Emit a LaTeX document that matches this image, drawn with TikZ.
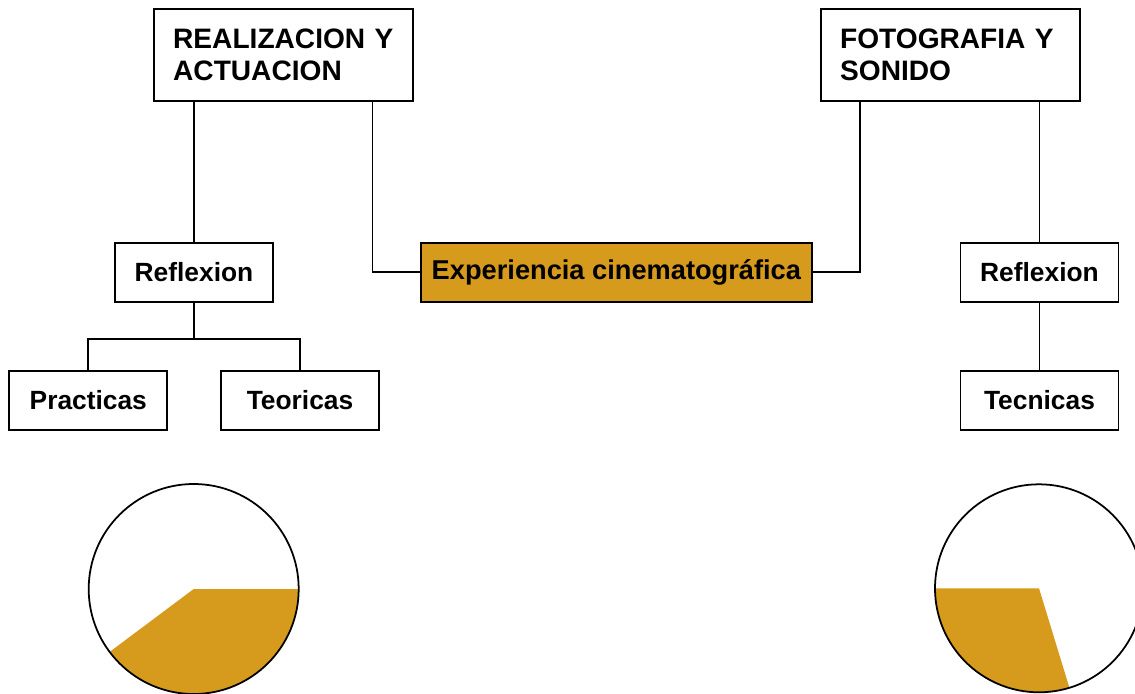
\documentclass[tikz,border=0pt]{standalone}
\usepackage{fontspec}
\setmainfont{Liberation Sans}
\definecolor{cinegold}{RGB}{214,154,28}

\begin{document}
\begin{tikzpicture}[x=0.02cm, y=-0.02cm, line width=1pt,
  topbox/.style={draw, align=left, text width=4.41cm, inner xsep=0.38cm,
    minimum height=1.85cm, font=\fontsize{16}{18.2}\selectfont\bfseries},
  smallbox/.style={draw, minimum width=3.16cm, minimum height=1.18cm,
    font=\fontsize{15}{18}\selectfont\bfseries}]
\useasboundingbox (0,0) rectangle (1135,693);

% Draw the main areas
\node[topbox] (realiz) at (283.4,54.9) {REALIZACION Y\\ACTUACION};
\node[topbox] (foto) at (950.4,54.9) {FOTOGRAFIA Y\\SONIDO};
\node[smallbox, fill=cinegold, minimum width=7.81cm, font=\fontsize{15.5}{18}\selectfont\bfseries] (exper) at (616.4,272.2) {Experiencia cinematográfica};

% left branch
\node[smallbox] (reflexL) at (194,272.2) {Reflexion};
\node[smallbox] (practicas) at (88.3,400.4) {Practicas};
\node[smallbox] (teoricas) at (300,400.4) {Teoricas};
\coordinate (split) at (194,339);

% right branch
\node[smallbox] (reflexR) at (1039.5,272.2) {Reflexion};
\node[smallbox] (tecnicas) at (1039.5,400.5) {Tecnicas};

% connectors
\draw (reflexL.north) -- (reflexL.north |- realiz.south);
\draw ([xshift=-0.82cm]realiz.south east) |- (exper.west);
\draw ([xshift=0.79cm]foto.south west) |- (exper.east);
\draw (reflexR.north) -- (reflexR.north |- foto.south);
\draw (reflexL.south) -- (split);
\draw (practicas.north) |- (split) -| (teoricas.north);
\draw (reflexR.south) -- (tecnicas.north);

% the two pies:
\coordinate (pieL) at (193.7,589);
\fill[cinegold] (pieL) -- ++(105,0) arc[start angle=0, end angle=143.2, radius=105] -- cycle;
\draw (pieL) circle[radius=105];
\coordinate (pieR) at (1039,588.3);
\fill[cinegold] (pieR) -- ++(-104,0) arc[start angle=180, end angle=73, radius=104] -- cycle;
\draw (pieR) circle[radius=104];
\end{tikzpicture}
\end{document}
